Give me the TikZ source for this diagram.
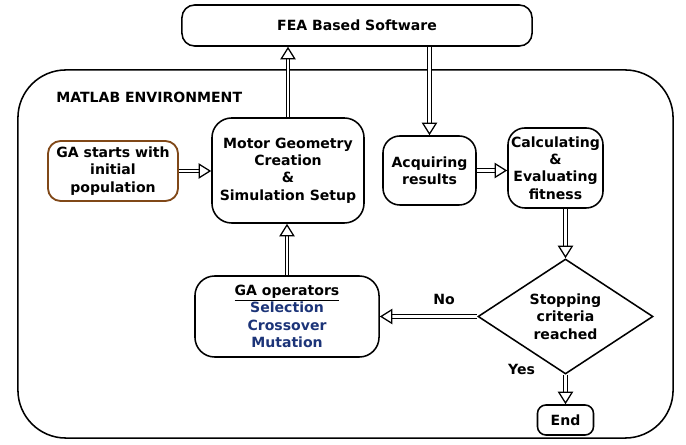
\documentclass[tikz,border=0pt]{standalone}
\usepackage{fontspec}
\setmainfont{DejaVu Sans}
\usetikzlibrary{arrows.meta,shapes.geometric,decorations.markings}
\definecolor{startbrown}{RGB}{128,72,24}
\definecolor{opsblue}{RGB}{28,52,120}
\tikzset{
  box/.style={draw, line width=1.1pt, rounded corners=9pt, align=center, inner sep=1pt},
  flow/.style={double, double distance=1.8pt, line width=0.75pt, shorten >=8pt,
    postaction={decorate, decoration={markings, mark=at position 1 with
      {\arrow[line width=0.9pt]{Triangle[fill=white,length=9pt,width=11pt]}}}}},
  lbl/.style={font=\fontsize{10}{12.4}\selectfont\bfseries},
}
\begin{document}
\begin{tikzpicture}[x=0.025cm,y=-0.025cm,lbl]
		\useasboundingbox (0,0) rectangle (686,445);
		% outer frames
		\node[box, minimum width=8.75cm, minimum height=1.025cm] (fea) at (357,25.5) {FEA Based Software};
		\node[draw, line width=1.1pt, rounded corners=1.2cm, minimum width=16.375cm, minimum height=9.2cm] (matlab) at (345.5,254) {};
		\node[anchor=west, inner sep=0pt] (env) at (56,97) {MATLAB ENVIRONMENT};
		% process boxes
		\node[box, draw=startbrown, line width=1.3pt, minimum width=3.25cm, minimum height=1.5cm] (start) at (113,171) {GA starts with\\initial\\population};
		\node[box, rounded corners=14pt, minimum width=3.8cm, minimum height=2.625cm] (motor) at (288,170.5) {Motor Geometry\\Creation\\\&\\Simulation Setup};
		\node[box, rounded corners=12pt, minimum width=2.325cm, minimum height=1.725cm] (acq) at (429.5,170.5) {Acquiring\\results};
		\node[box, rounded corners=12pt, minimum width=2.375cm, minimum height=2cm] (calc) at (555.5,168) {Calculating\\\&\\Evaluating\\fitness};
		\node[draw, line width=1.1pt, diamond, aspect=1.5, inner sep=0pt, align=center, minimum width=4.375cm, minimum height=2.875cm] (stop) at (565.5,316.5) {Stopping\\criteria\\reached};
		\node[box, rounded corners=14pt, minimum width=4.6cm, minimum height=2.025cm] (ops) at (287,316.5) {\underline{GA operators}\\\textcolor{opsblue}{Selection}\\\textcolor{opsblue}{Crossover}\\\textcolor{opsblue}{Mutation}};
		\node[box, rounded corners=6pt, minimum width=1.4cm, minimum height=0.75cm] (finish) at (565.5,420) {End};
		% flow
		\draw[flow] (motor.north) -- (motor.north |- fea.south);
		\draw[flow] (acq.north |- fea.south) -- (acq.north);
		\draw[flow] (start.east) -- (start.east -| motor.west);
		\draw[flow] (acq.east) -- (acq.east -| calc.west);
		\draw[flow] (stop.north |- calc.south) -- (stop.north);
		\draw[flow] (stop.west) -- (stop.west -| ops.east);
		\draw[flow] (ops.north) -- (ops.north |- motor.south);
		\draw[flow] (stop.south) -- (finish.north);
		\node (no) at (444,299) {No};
		\node (yes) at (521.5,369) {Yes};
\end{tikzpicture}
\end{document}
